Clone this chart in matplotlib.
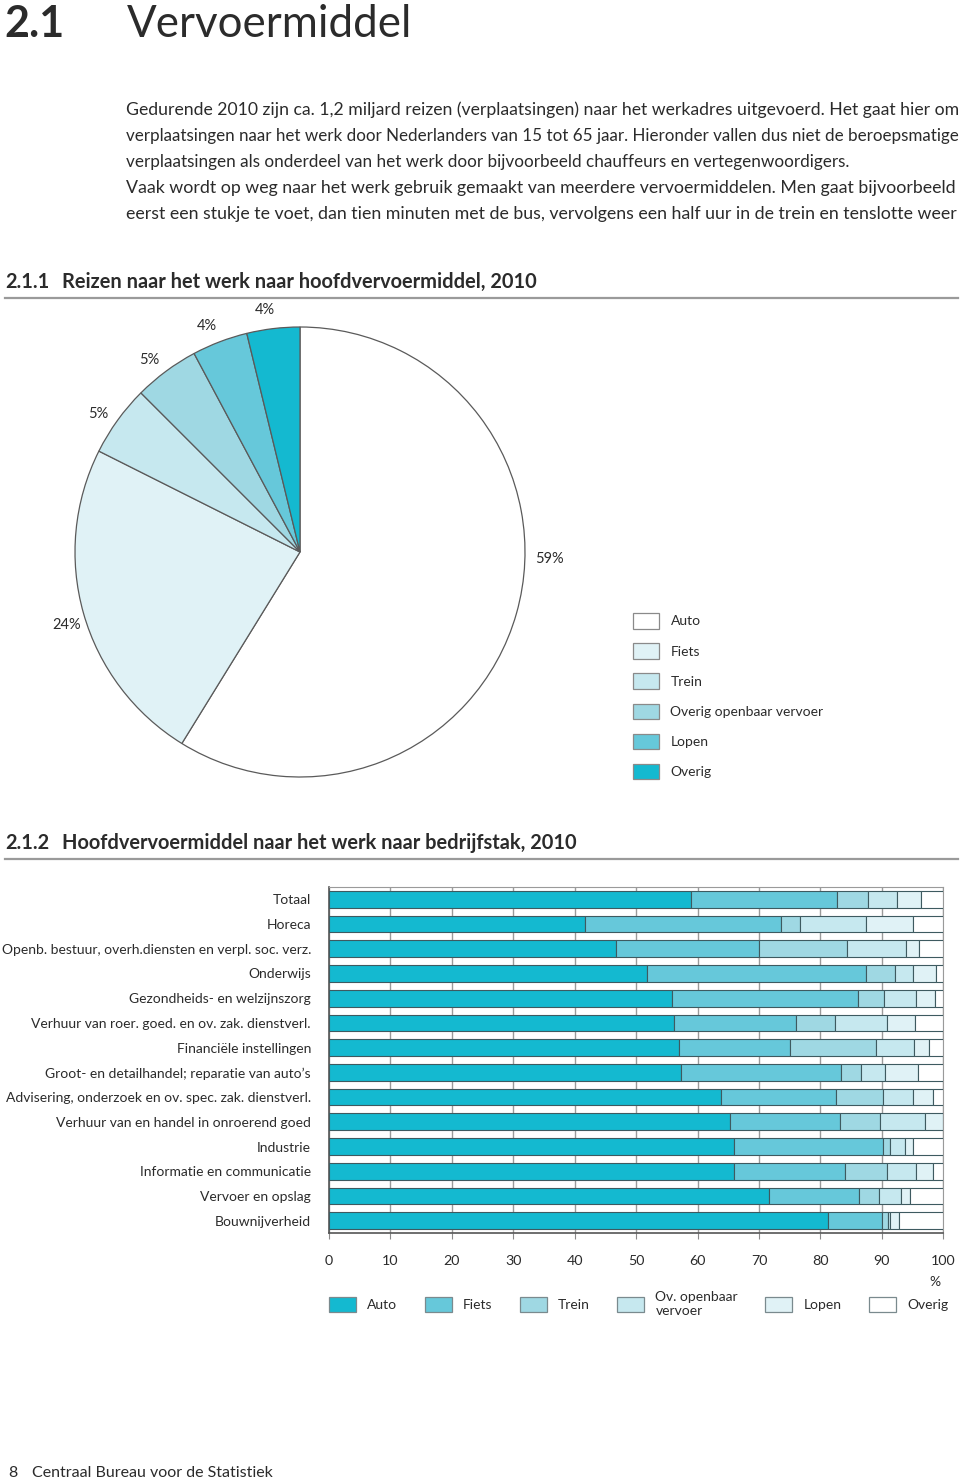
import matplotlib
matplotlib.use("Agg")
import matplotlib.pyplot as plt
from matplotlib.patches import Patch
from matplotlib.lines import Line2D
import numpy as np

plt.rcParams['font.family'] = ['Lato', 'DejaVu Sans']

W, H = 960, 1481

# ---------------- data ----------------
pie_labels = ["Auto", "Fiets", "Trein", "Overig openbaar vervoer", "Lopen", "Overig"]
pie_values = [58.8, 23.6, 5.1, 4.7, 4.0, 3.8]
pie_colors = ["#ffffff", "#e0f2f6", "#c6e8ef", "#9fd8e3", "#66c8da", "#14b9d0"]

sectors = [
    "Totaal",
    "Horeca",
    "Openb. bestuur, overh.diensten en verpl. soc. verz.",
    "Onderwijs",
    "Gezondheids- en welzijnszorg",
    "Verhuur van roer. goed. en ov. zak. dienstverl.",
    "Financiële instellingen",
    "Groot- en detailhandel; reparatie van auto’s",
    "Advisering, onderzoek en ov. spec. zak. dienstverl.",
    "Verhuur van en handel in onroerend goed",
    "Industrie",
    "Informatie en communicatie",
    "Vervoer en opslag",
    "Bouwnijverheid",
]
auto   = [59.0, 41.6, 46.8, 51.7, 55.8, 56.2, 56.9, 57.3, 63.8, 65.2, 65.9, 66.0, 71.6, 81.2]
fiets  = [23.7, 32.0, 23.2, 35.7, 30.3, 19.8, 18.1, 26.1, 18.8, 18.0, 24.3, 18.0, 14.7,  8.8]
trein  = [ 5.1,  3.1, 14.3,  4.7,  4.3,  6.3, 14.1,  3.2,  7.6,  6.5,  1.2,  6.9,  3.3,  1.0]
ov     = [ 4.7, 10.7,  9.7,  3.0,  5.2,  8.6,  6.2,  3.9,  4.8,  7.4,  2.4,  4.7,  3.5,  0.4]
lopen  = [ 3.8,  7.6,  2.0,  3.7,  3.1,  4.5,  2.3,  5.4,  3.3,  2.9,  1.2,  2.8,  1.5,  1.4]
overig = [ 3.7,  5.0,  4.0,  1.2,  1.3,  4.6,  2.4,  4.1,  1.7,  0.0,  5.0,  1.6,  5.4,  7.2]
bar_series = ["Auto", "Fiets", "Trein", "Ov. openbaar\nvervoer", "Lopen", "Overig"]
bar_colors = ["#14b9d0", "#66c8da", "#9fd8e3", "#c6e8ef", "#e0f2f6", "#ffffff"]
x_ticks = [0, 10, 20, 30, 40, 50, 60, 70, 80, 90, 100]

TXT = "#2b2b2b"

fig = plt.figure(figsize=(W / 100, H / 100), dpi=100)
renderer = fig.canvas.get_renderer()

def fx(x):
    return x / W

def fy(y):
    return 1 - y / H

def box(x0, y0, x1, y1):
    return [fx(x0), fy(y1), fx(x1) - fx(x0), fy(y0) - fy(y1)]

# ---------------- page texts ----------------
fig.text(fx(4), fy(37), "2.1", fontsize=31, fontweight="bold", color=TXT, va="baseline", ha="left")
fig.text(fx(127), fy(37), "Vervoermiddel", fontsize=31.6, color=TXT, va="baseline", ha="left")

para = [
    "Gedurende 2010 zijn ca. 1,2 miljard reizen (verplaatsingen) naar het werkadres uitgevoerd. Het gaat hier om",
    "verplaatsingen naar het werk door Nederlanders van 15 tot 65 jaar. Hieronder vallen dus niet de beroepsmatige",
    "verplaatsingen als onderdeel van het werk door bijvoorbeeld chauffeurs en vertegenwoordigers.",
    "Vaak wordt op weg naar het werk gebruik gemaakt van meerdere vervoermiddelen. Men gaat bijvoorbeeld",
    "eerst een stukje te voet, dan tien minuten met de bus, vervolgens een half uur in de trein en tenslotte weer",
]
justified = [True, True, False, True, True]
target_w = 833.0
for i, line in enumerate(para):
    t = fig.text(fx(126), fy(109.5 + i * 26.2), line, fontsize=12.5, color=TXT, va="center", ha="left")
    if justified[i]:
        w = t.get_window_extent(renderer).width
        t.set_fontsize(12.5 * target_w / w)
    else:
        t.set_fontsize(12.3)

def heading(y, num, title):
    fig.text(fx(5), fy(y), num, fontsize=14.4, fontweight="bold", color=TXT, va="center", ha="left")
    fig.text(fx(62), fy(y), title, fontsize=14.4, fontweight="bold", color=TXT, va="center", ha="left")
    fig.add_artist(Line2D([fx(5), fx(958)], [fy(y + 16), fy(y + 16)], color="#9a9a9a", lw=1.6))

heading(282, "2.1.1", "Reizen naar het werk naar hoofdvervoermiddel, 2010")
heading(843, "2.1.2", "Hoofdvervoermiddel naar het werk naar bedrijfstak, 2010")

fig.text(fx(8), fy(1473), "8", fontsize=11.5, color=TXT, va="center", ha="left")
fig.text(fx(32), fy(1473), "Centraal Bureau voor de Statistiek", fontsize=11.5, color=TXT, va="center", ha="left")

# ---------------- pie ----------------
R = 225.0
cx, cy = 300, 552
half = 240
axp = fig.add_axes(box(cx - half, cy - half, cx + half, cy + half))
wedges, _ = axp.pie(pie_values, colors=pie_colors, startangle=90, counterclock=False,
                    radius=1.0, wedgeprops=dict(edgecolor="#5a5a5a", linewidth=0.9))
axp.set_xlim(-half / R, half / R)
axp.set_ylim(-half / R, half / R)
axp.set_aspect("equal")
axp.axis("off")
for i, w in enumerate(wedges):
    ang = np.deg2rad((w.theta1 + w.theta2) / 2 + 1.5)
    d = 1.085
    if i == 0:
        ang = np.deg2rad(-1.5)
        d = 1.11
    axp.text(d * np.cos(ang), d * np.sin(ang), "%.0f%%" % pie_values[i],
             ha="center", va="center", fontsize=10.5, color=TXT)

pie_handles = [Patch(facecolor=c, edgecolor="#8a8a8a", linewidth=0.9) for c in pie_colors]
fig.legend(pie_handles, pie_labels, loc="upper left", bbox_to_anchor=(fx(633), fy(613)),
           frameon=False, fontsize=10, handlelength=1.9, handleheight=1.35,
           handletextpad=0.8, labelspacing=1.05, borderaxespad=0, borderpad=0,
           labelcolor=TXT)

# ---------------- stacked bars ----------------
axb = fig.add_axes(box(329, 887, 943.3, 1233))
y = np.arange(len(sectors))
series = [auto, fiets, trein, ov, lopen, overig]
left = np.zeros(len(sectors))
for vals, col in zip(series, bar_colors):
    vals = np.array(vals)
    axb.barh(y, vals, left=left, height=0.68, color=col, edgecolor="#3e5a60",
             linewidth=0.8, zorder=3)
    left += vals
axb.set_xlim(0, 100)
axb.set_ylim(len(sectors) - 0.5, -0.5)
axb.set_xticks(x_ticks)
axb.set_xticklabels([str(t) for t in x_ticks], fontsize=10.3, color=TXT)
axb.set_yticks(y)
axb.set_yticklabels(sectors, fontsize=10, color=TXT)
axb.tick_params(axis="y", length=0, pad=13)
axb.tick_params(axis="x", length=4, color="#8a8a8a", pad=12)
axb.grid(axis="x", color="#9a9a9a", linewidth=1.0, zorder=0)
axb.set_axisbelow(True)
for s in ["top", "right"]:
    axb.spines[s].set_color("#9a9a9a")
for s in ["left", "bottom"]:
    axb.spines[s].set_color("#555555")
    axb.spines[s].set_linewidth(1.2)
fig.text(fx(935), fy(1282), "%", fontsize=10, color=TXT, ha="center", va="center")

bar_handles = [Patch(facecolor=c, edgecolor="#7a8a8e", linewidth=0.9) for c in bar_colors]
fig.legend(bar_handles, bar_series, loc="upper left", bbox_to_anchor=(fx(329), fy(1291)),
           ncol=6, frameon=False, fontsize=10, handlelength=1.95, handleheight=1.3,
           handletextpad=0.8, columnspacing=1.97, borderaxespad=0, borderpad=0,
           labelcolor=TXT)

fig.savefig("out.png", dpi=100, facecolor="white")
